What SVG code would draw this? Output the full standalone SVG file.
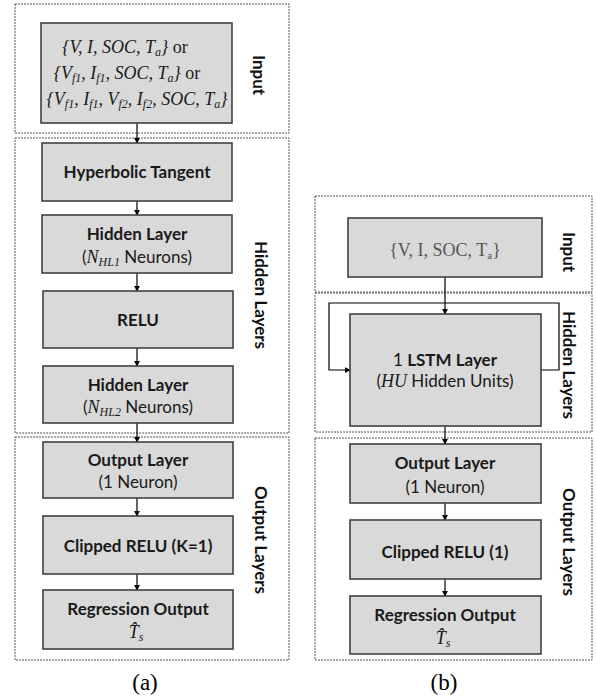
<svg xmlns="http://www.w3.org/2000/svg" width="596" height="698" viewBox="0 0 596 698">
  <defs>
    <marker id="arr" viewBox="0 0 8 8" refX="7" refY="4" markerWidth="6" markerHeight="6" orient="auto" markerUnits="userSpaceOnUse">
      <path d="M0,0 L8,4 L0,8 Z" fill="#000"/>
    </marker>
    <style>
      .grp { fill: none; stroke: #555; stroke-width: 1; stroke-dasharray: 2 1; }
      .node rect { fill: #d9d9d9; stroke: #404040; stroke-width: 1.6; }
      .lbl { font-family: Lato, "Open Sans", sans-serif; font-size: 17px; fill: #1a1a1a; text-anchor: middle; }
      .b { font-weight: bold; }
      .math { font-family: "Liberation Serif", "DejaVu Serif", serif; font-style: italic; font-size: 18px; fill: #1a1a1a; text-anchor: middle; }
      .sub { font-size: 12px; }
      .side { font-family: Lato, "Open Sans", sans-serif; font-weight: bold; font-size: 17px; fill: #111; text-anchor: middle; dominant-baseline: central; }
      .cap { font-family: "Liberation Serif", serif; font-size: 23px; fill: #000; text-anchor: middle; }
      .conn line, .conn path { stroke: #000; stroke-width: 1.2; fill: none; }
    </style>
  </defs>

  <!-- group frames, panel (a) -->
  <rect class="grp" x="15" y="4" width="274" height="129"/>
  <rect class="grp" x="15" y="138" width="274" height="295"/>
  <rect class="grp" x="15" y="437" width="274" height="223"/>
  <!-- group frames, panel (b) -->
  <rect class="grp" x="315" y="196" width="277" height="96"/>
  <rect class="grp" x="315" y="293" width="277" height="139"/>
  <rect class="grp" x="315" y="438" width="277" height="222"/>

  <!-- side labels -->
  <text class="side" transform="translate(259,75) rotate(90)">Input</text>
  <text class="side" transform="translate(261,295) rotate(90)">Hidden Layers</text>
  <text class="side" transform="translate(261,540) rotate(90)">Output Layers</text>
  <text class="side" transform="translate(569,252) rotate(90)">Input</text>
  <text class="side" transform="translate(569,365) rotate(90)">Hidden Layers</text>
  <text class="side" transform="translate(569,542) rotate(90)">Output Layers</text>

  <!-- connectors -->
  <g class="conn" id="connectors">
    <line x1="137" y1="123" x2="137" y2="143" marker-end="url(#arr)"/>
    <line x1="137" y1="201" x2="137" y2="215" marker-end="url(#arr)"/>
    <line x1="137" y1="273" x2="137" y2="291" marker-end="url(#arr)"/>
    <line x1="137" y1="348" x2="137" y2="366" marker-end="url(#arr)"/>
    <line x1="137" y1="423" x2="137" y2="442" marker-end="url(#arr)"/>
    <line x1="137" y1="498" x2="137" y2="516" marker-end="url(#arr)"/>
    <line x1="137" y1="574" x2="137" y2="590" marker-end="url(#arr)"/>

    <line x1="445" y1="277" x2="445" y2="314" marker-end="url(#arr)"/>
    <path d="M541,370 H559 V303 H329 V370 H350" marker-end="url(#arr)"/>
    <line x1="445" y1="426" x2="445" y2="444" marker-end="url(#arr)"/>
    <line x1="445" y1="503" x2="445" y2="520" marker-end="url(#arr)"/>
    <line x1="445" y1="579" x2="445" y2="596" marker-end="url(#arr)"/>
  </g>

  <!-- panel (a) nodes -->
  <g class="node" id="a-input">
    <rect x="41" y="23" width="191" height="100"/>
    <text class="math" x="125" y="53">{V, I, SOC, T<tspan class="sub" dy="3">a</tspan><tspan dy="-3">}</tspan><tspan font-style="normal"> or</tspan></text>
    <text class="math" x="127" y="79">{V<tspan class="sub" dy="3">f1</tspan><tspan dy="-3">, I</tspan><tspan class="sub" dy="3">f1</tspan><tspan dy="-3">, SOC, T</tspan><tspan class="sub" dy="3">a</tspan><tspan dy="-3">}</tspan><tspan font-style="normal"> or</tspan></text>
    <text class="math" x="137" y="105">{V<tspan class="sub" dy="3">f1</tspan><tspan dy="-3">, I</tspan><tspan class="sub" dy="3">f1</tspan><tspan dy="-3">, V</tspan><tspan class="sub" dy="3">f2</tspan><tspan dy="-3">, I</tspan><tspan class="sub" dy="3">f2</tspan><tspan dy="-3">, SOC, T</tspan><tspan class="sub" dy="3">a</tspan><tspan dy="-3">}</tspan></text>
  </g>
  <g class="node" id="a-tanh">
    <rect x="42" y="143" width="190" height="58"/>
    <text class="lbl b" x="137" y="178">Hyperbolic Tangent</text>
  </g>
  <g class="node" id="a-hidden1">
    <rect x="42" y="215" width="190" height="58"/>
    <text class="lbl b" x="137" y="240">Hidden Layer</text>
    <text class="lbl" x="137" y="263">(<tspan class="math" font-size="17">N</tspan><tspan class="math sub" dy="3">HL1</tspan><tspan dy="-3"> Neurons)</tspan></text>
  </g>
  <g class="node" id="a-relu">
    <rect x="43" y="291" width="190" height="57"/>
    <text class="lbl b" x="138" y="326">RELU</text>
  </g>
  <g class="node" id="a-hidden2">
    <rect x="43" y="366" width="190" height="57"/>
    <text class="lbl b" x="138" y="391">Hidden Layer</text>
    <text class="lbl" x="138" y="413">(<tspan class="math" font-size="17">N</tspan><tspan class="math sub" dy="3">HL2</tspan><tspan dy="-3"> Neurons)</tspan></text>
  </g>
  <g class="node" id="a-output">
    <rect x="43" y="442" width="190" height="56"/>
    <text class="lbl b" x="138" y="466">Output Layer</text>
    <text class="lbl" x="138" y="488">(1 Neuron)</text>
  </g>
  <g class="node" id="a-clipped">
    <rect x="43" y="516" width="190" height="58"/>
    <text class="lbl b" x="138" y="552">Clipped RELU (K=1)</text>
  </g>
  <g class="node" id="a-regression">
    <rect x="43" y="590" width="190" height="59"/>
    <text class="lbl b" x="138" y="615">Regression Output</text>
    <text class="math" x="136" y="638" fill="#555">T&#x302;<tspan class="sub" dy="3">s</tspan></text>
  </g>

  <!-- panel (b) nodes -->
  <g class="node" id="b-input">
    <rect x="348" y="218" width="194" height="59"/>
    <text x="445" y="256" font-family="Liberation Serif, serif" font-size="18" fill="#555" text-anchor="middle">{V, I, SOC, T<tspan font-size="11" dy="3">a</tspan><tspan dy="-3">}</tspan></text>
  </g>
  <g class="node" id="b-lstm">
    <rect x="350" y="314" width="191" height="112"/>
    <text class="lbl" x="445" y="366">1 <tspan class="b">LSTM Layer</tspan></text>
    <text class="lbl" x="445" y="387">(<tspan class="math" font-size="17">HU</tspan> Hidden Units)</text>
  </g>
  <g class="node" id="b-output">
    <rect x="350" y="444" width="191" height="59"/>
    <text class="lbl b" x="445" y="469">Output Layer</text>
    <text class="lbl" x="445" y="493">(1 Neuron)</text>
  </g>
  <g class="node" id="b-clipped">
    <rect x="350" y="520" width="191" height="59"/>
    <text class="lbl b" x="445" y="558">Clipped RELU (1)</text>
  </g>
  <g class="node" id="b-regression">
    <rect x="350" y="596" width="191" height="58"/>
    <text class="lbl b" x="445" y="621">Regression Output</text>
    <text class="math" x="443" y="644" fill="#555">T&#x302;<tspan class="sub" dy="3">s</tspan></text>
  </g>

  <!-- captions -->
  <text class="cap" x="145" y="690">(a)</text>
  <text class="cap" x="444" y="690">(b)</text>
</svg>
